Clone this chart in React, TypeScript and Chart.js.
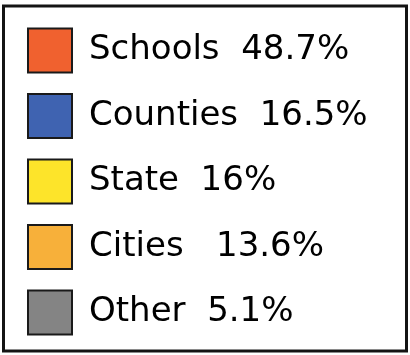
import React, { useEffect, useRef } from 'react';
import { Chart, registerables } from 'chart.js';

Chart.register(...registerables);

const categories = ['Schools', 'Counties', 'State', 'Cities', 'Other'];
const shares = [48.7, 16.5, 16, 13.6, 5.1];
const colors = ['#F0612F', '#3F63B1', '#FDE42A', '#F7B03A', '#848484'];
const labelGaps = [2, 2, 2, 3, 2];

const framePlugin = {
  id: 'frame',
  beforeDraw(chart: any) {
    const ctx = chart.ctx;
    ctx.save();
    ctx.fillStyle = '#ffffff';
    ctx.fillRect(0, 0, chart.width, chart.height);
    ctx.strokeStyle = '#141414';
    ctx.lineWidth = 3;
    ctx.strokeRect(3.5, 6, 403, 345);
    ctx.restore();
  },
};

export default function App() {
  const ref = useRef<HTMLCanvasElement | null>(null);

  useEffect(() => {
    document.body.style.margin = '0';
    const canvas = ref.current;
    if (!canvas) return;
    const chart = new Chart(canvas, {
      type: 'pie',
      data: {
        labels: categories,
        datasets: [
          {
            data: shares,
            backgroundColor: colors,
            borderWidth: 0,
            radius: 0,
          } as any,
        ],
      },
      options: {
        responsive: false,
        animation: false,
        devicePixelRatio: 1,
        layout: { padding: { left: 6.5, top: 7, right: 0, bottom: -20 } },
        plugins: {
          tooltip: { enabled: false },
          legend: {
            position: 'left',
            align: 'start',
            maxWidth: 410,
            labels: {
              boxWidth: 44,
              boxHeight: 44,
              padding: 21.5,
              color: '#111111',
              font: { family: "'DejaVu Sans', sans-serif", size: 34 },
              generateLabels: () =>
                categories.map((c, i) => ({
                  text: c + ' '.repeat(labelGaps[i]) + shares[i] + '%',
                  fillStyle: colors[i],
                  strokeStyle: '#1a1a1a',
                  lineWidth: 2,
                  hidden: false,
                  index: i,
                  datasetIndex: 0,
                })),
            },
          },
        },
      } as any,
      plugins: [framePlugin],
    });
    return () => chart.destroy();
  }, []);

  return (
    <div style={{ width: 410, height: 355 }}>
      <canvas ref={ref} width={410} height={355} style={{ display: 'block' }} />
    </div>
  );
}
